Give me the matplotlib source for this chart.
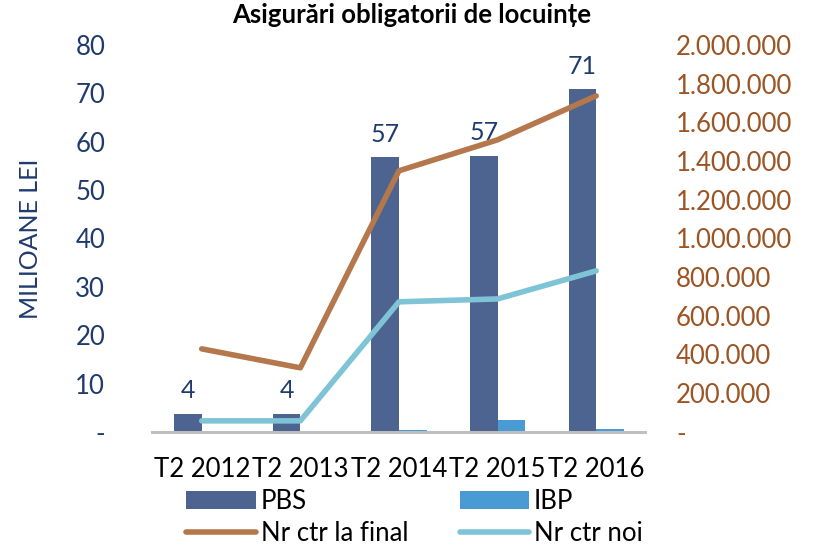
import numpy as np
import matplotlib.pyplot as plt

plt.rcParams['font.family'] = ['Lato', 'DejaVu Sans']

categories = ['T2 2012', 'T2 2013', 'T2 2014', 'T2 2015', 'T2 2016']
pbs = [3.8, 3.8, 56.8, 57.1, 70.8]
ibp = [0.0, 0.0, 0.3, 2.5, 0.7]
pbs_labels = ['4', '4', '57', '57', '71']
ctr_final = [429000, 331000, 1349000, 1509000, 1736000]
ctr_noi = [57000, 57000, 672000, 687000, 832000]

navy = '#1F3A6E'
brown = '#9C5424'

fig = plt.figure(figsize=(8.15, 5.53), dpi=100)
ax = fig.add_axes([0.187, 0.219, 0.605, 0.70])
ax2 = ax.twinx()

x = np.arange(len(categories))
w = 0.28
b1 = ax.bar(x - w / 2, pbs, w, color='#4C648F', label='PBS', zorder=2)
b2 = ax.bar(x + w / 2, ibp, w, color='#4A9BD4', label='IBP', zorder=2)
for xi, v, t in zip(x, pbs, pbs_labels):
    ax.text(xi - w / 2, v + 2.3, t, ha='center', va='bottom', color=navy, fontsize=18)

l1, = ax2.plot(x, ctr_final, color='#B4784C', lw=4, solid_capstyle='round',
               label='Nr ctr la final')
l2, = ax2.plot(x, ctr_noi, color='#7FC4D6', lw=4, solid_capstyle='round',
               label='Nr ctr noi')

ax.set_xlim(-0.5, 4.5)
ax.set_ylim(0, 80)
ax2.set_ylim(0, 2000000)
ax.set_yticks(range(0, 81, 10))
ax.set_yticklabels(['-'] + [str(v) for v in range(10, 81, 10)])
ax2.set_yticks(range(0, 2000001, 200000))
ax2.set_yticklabels(['-'] + ['{:,}'.format(v).replace(',', '.') for v in range(200000, 2000001, 200000)])
ax.set_xticks(x)
ax.set_xticklabels(categories, fontsize=18.5)

ax.tick_params(axis='y', colors=navy, labelsize=18.5, length=0, pad=34)
ax2.tick_params(axis='y', colors=brown, labelsize=18.5, length=0, pad=22)
ax.tick_params(axis='x', length=0, pad=18)
ax.set_ylabel('MILIOANE LEI', color=navy, fontsize=18, labelpad=24)

for a in (ax, ax2):
    for s in ['top', 'left', 'right']:
        a.spines[s].set_visible(False)
    a.spines['bottom'].set_color('#BFBFBF')
    a.spines['bottom'].set_linewidth(2)

fig.suptitle('Asigurări obligatorii de locuințe', x=0.505, y=0.995, fontsize=18.5,
             fontweight='bold')

fig.legend([b1, l1, b2, l2], ['PBS', 'Nr ctr la final', 'IBP', 'Nr ctr noi'],
           loc='lower left', bbox_to_anchor=(0.2, -0.03), ncol=2, frameon=False,
           fontsize=18.5, columnspacing=2.0, handlelength=2.7, handletextpad=0.2,
           labelspacing=0.28)

fig.savefig('out.png', dpi=100)
